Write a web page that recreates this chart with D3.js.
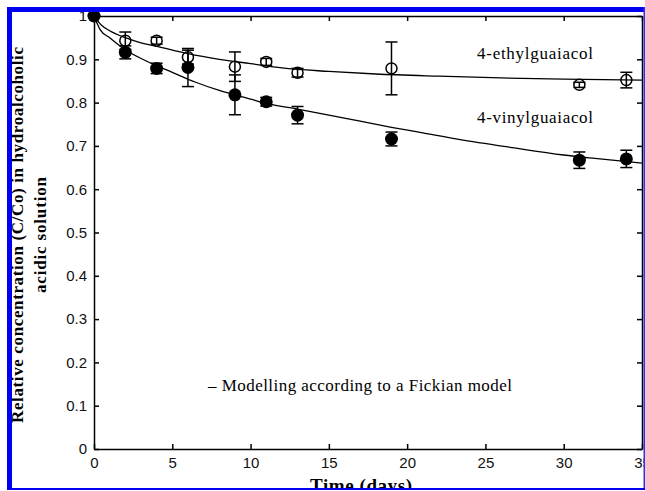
<!DOCTYPE html>
<html>
<head>
<meta charset="utf-8">
<script src="https://cdn.jsdelivr.net/npm/d3@7"></script>
<style>
  body { margin: 0; background: #fff; }
  svg { display: block; }
  .axis text { font-family: "Liberation Sans", Arial, sans-serif; font-size: 15px; fill: #111; }
  .axis path, .axis line { stroke: #000; stroke-width: 1.5; }
  .lab { font-family: "Liberation Serif", "Times New Roman", serif; fill: #000; }
</style>
</head>
<body>
<div class="render"></div>
<script>
// sampling days
var days = [0, 2, 4, 6, 9, 11, 13, 19, 31, 34];
// 4-ethylguaiacol (open circles)
var ethyl = [1.0, 0.943, 0.943, 0.905, 0.883, 0.894, 0.869, 0.879, 0.841, 0.852];
var ethylErr = [0, 0.02, 0.008, 0.016, 0.034, 0.008, 0.01, 0.061, 0.006, 0.018];
// 4-vinylguaiacol (filled circles)
var vinyl = [1.0, 0.916, 0.879, 0.881, 0.818, 0.802, 0.771, 0.716, 0.667, 0.670];
var vinylErr = [0, 0.015, 0.012, 0.044, 0.046, 0.01, 0.02, 0.016, 0.019, 0.02];

// Fickian model curves
var ethylModelDays = [0, 0.5, 1, 2, 3, 4, 6, 8, 10, 12, 15, 18, 22, 26, 30, 35];
var ethylModel = [1.0, 0.978, 0.966, 0.95, 0.938, 0.93, 0.913, 0.9, 0.89, 0.88, 0.872, 0.866, 0.861, 0.857, 0.854, 0.852];
var vinylModelDays = [0, 0.4, 1, 2, 3.4, 5, 6.5, 8, 10, 11, 13, 15, 17, 19, 21, 23.3, 26.7, 30, 32, 35];
var vinylModel = [1.0, 0.968, 0.95, 0.922, 0.895, 0.87, 0.847, 0.828, 0.808, 0.798, 0.785, 0.771, 0.757, 0.743, 0.73, 0.715, 0.696, 0.679, 0.671, 0.66];

var xTicks = [0, 5, 10, 15, 20, 25, 30, 35];
var yTicks = [0, 0.1, 0.2, 0.3, 0.4, 0.5, 0.6, 0.7, 0.8, 0.9, 1];
var yTickLabels = ["0", "0.1", "0.2", "0.3", "0.4", "0.5", "0.6", "0.7", "0.8", "0.9", "1"];

var w = 645, h = 491;
var x = d3.scaleLinear().domain([0, 35]).range([94, 642]);
var y = d3.scaleLinear().domain([0, 1]).range([449, 16]);

var svg = d3.select('.render').append('svg').attr('width', w).attr('height', h);

svg.append('g').attr('class', 'axis').attr('transform', 'translate(0,' + y(0) + ')')
   .call(d3.axisBottom(x).tickValues(xTicks).tickSize(-5).tickSizeOuter(0).tickPadding(8));
svg.append('g').attr('class', 'axis').attr('transform', 'translate(0,' + y(1) + ')')
   .call(d3.axisTop(x).tickValues(xTicks).tickSize(-5).tickSizeOuter(0).tickFormat(''));
svg.append('g').attr('class', 'axis').attr('transform', 'translate(' + x(0) + ',0)')
   .call(d3.axisLeft(y).tickValues(yTicks).tickSize(-5).tickSizeOuter(0).tickPadding(7)
   .tickFormat(function (d, i) { return yTickLabels[i]; }));
svg.append('g').attr('class', 'axis').attr('transform', 'translate(' + x(35) + ',0)')
   .call(d3.axisRight(y).tickValues(yTicks).tickSize(-5).tickSizeOuter(0).tickFormat(''));

// model curves
function curve(ds, vs) {
   var line = d3.line().x(function (d, i) { return x(ds[i]); }).y(function (d) { return y(d); })
      .curve(d3.curveMonotoneX);
   svg.append('path').attr('d', line(vs)).attr('fill', 'none').attr('stroke', '#000').attr('stroke-width', 1.3);
}
curve(ethylModelDays, ethylModel);
curve(vinylModelDays, vinylModel);

// error bars
function errs(vals, err) {
   var g = svg.append('g').attr('stroke', '#000').attr('stroke-width', 1.5);
   vals.forEach(function (v, i) {
      if (!err[i]) return;
      var cx = x(days[i]);
      g.append('line').attr('x1', cx).attr('x2', cx).attr('y1', y(v - err[i])).attr('y2', y(v + err[i]));
      g.append('line').attr('x1', cx - 6).attr('x2', cx + 6).attr('y1', y(v - err[i])).attr('y2', y(v - err[i]));
      g.append('line').attr('x1', cx - 6).attr('x2', cx + 6).attr('y1', y(v + err[i])).attr('y2', y(v + err[i]));
   });
}
errs(ethyl, ethylErr);
errs(vinyl, vinylErr);

svg.selectAll('circle.open').data(ethyl).enter().append('circle').attr('class', 'open')
   .attr('cx', function (d, i) { return x(days[i]); }).attr('cy', function (d) { return y(d); })
   .attr('r', 5.5).attr('fill', 'none').attr('stroke', '#000').attr('stroke-width', 1.5);
svg.selectAll('circle.full').data(vinyl).enter().append('circle').attr('class', 'full')
   .attr('cx', function (d, i) { return x(days[i]); }).attr('cy', function (d) { return y(d); })
   .attr('r', 6.5).attr('fill', '#000');

// texts
svg.append('text').attr('class', 'lab').text('4-ethylguaiacol').attr('x', 477).attr('y', 59)
   .attr('textLength', 116).style('font-size', '17px');
svg.append('text').attr('class', 'lab').text('4-vinylguaiacol').attr('x', 477).attr('y', 123)
   .attr('textLength', 116).style('font-size', '17px');
svg.append('text').attr('class', 'lab').text('\u2013 Modelling according to a Fickian model').attr('x', 208).attr('y', 391)
   .attr('textLength', 304).style('font-size', '17px');

svg.append('text').attr('class', 'lab').text('Relative concentration (C/Co) in hydroalcoholic')
   .attr('transform', 'translate(23,235)rotate(-90)').attr('text-anchor', 'middle')
   .attr('textLength', 376).style('font-size', '17px').style('font-weight', 'bold');
svg.append('text').attr('class', 'lab').text('acidic solution')
   .attr('transform', 'translate(46,235)rotate(-90)').attr('text-anchor', 'middle')
   .attr('textLength', 116).style('font-size', '17px').style('font-weight', 'bold');
svg.append('text').attr('class', 'lab').text('Time (days)').attr('x', 310).attr('y', 492)
   .attr('textLength', 102).style('font-size', '19px').style('font-weight', 'bold');

// frame of the picture
svg.append('rect').attr('x', 0).attr('y', 0).attr('width', 7).attr('height', h).attr('fill', '#fff');
svg.append('rect').attr('x', 0).attr('y', 490).attr('width', w).attr('height', 1).attr('fill', '#fff');
svg.append('rect').attr('x', 7).attr('y', 7).attr('width', 5).attr('height', 483).attr('fill', '#0000f0');
svg.append('rect').attr('x', 7).attr('y', 7).attr('width', 638).attr('height', 5).attr('fill', '#0000f0');
svg.append('rect').attr('x', 643.5).attr('y', 7).attr('width', 1.5).attr('height', 483).attr('fill', '#3030f0');
svg.append('rect').attr('x', 7).attr('y', 488).attr('width', 638).attr('height', 2).attr('fill', '#0000f0');
</script>
</body>
</html>
